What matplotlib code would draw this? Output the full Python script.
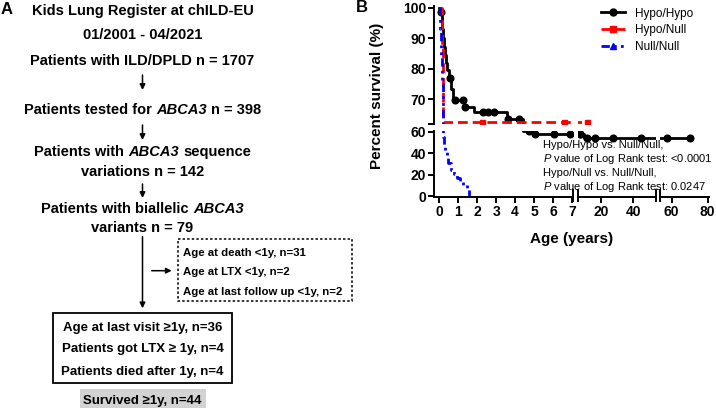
import matplotlib
matplotlib.use('Agg')
import matplotlib.pyplot as plt
from matplotlib.lines import Line2D
from matplotlib.patches import Rectangle

plt.rcParams['font.family'] = ['Liberation Sans', 'DejaVu Sans']
plt.rcParams['mathtext.fontset'] = 'custom'
plt.rcParams['mathtext.it'] = 'Liberation Sans:italic'
plt.rcParams['mathtext.rm'] = 'Liberation Sans'

# ---------------- data ----------------
# Hypo/Hypo Kaplan-Meier steps
hh_time = [0, 0.05, 0.12, 0.16, 0.20, 0.24, 0.28, 0.34, 0.42, 0.50, 0.62, 0.70,
           1.30, 1.82, 3.58, 4.42, 5.00, 9.50, 70.2]
hh_surv = [100, 98.5, 96, 93, 90, 87, 84.5, 82, 79.5, 76.9, 73.5, 69.8,
           67.6, 65.9, 63.7, 60.5, 57.6, 53.9, 53.9]
hh_cens_time = [0.09, 0.57, 0.83, 1.27, 1.36, 2.29, 2.59, 2.86, 3.65, 4.23, 4.75,
                5.06, 6.03, 6.87, 7.1, 7.4, 11.8, 16.5, 27.7, 44.7, 57.2, 70.2]
hh_cens_surv = [98.5, 76.9, 69.8, 69.8, 67.6, 65.9, 65.9, 65.9, 63.7, 63.7, 60.5,
                57.6, 57.6, 57.6, 57.6, 57.6, 53.9, 53.9, 53.9, 53.9, 53.9, 53.9]
# Hypo/Null
hn_time = [0, 0.12, 0.18, 0.22, 11.4]
hn_surv = [100, 87.5, 75, 62.5, 62.5]
hn_cens_time = [2.24, 6.6, 11.4]
hn_cens_surv = [62.5, 62.5, 62.5]
# Null/Null
nn_time = [0, 0.06, 0.09, 0.11, 0.13, 0.15, 0.17, 0.19, 0.21, 0.25, 0.30, 0.38,
           0.48, 0.60, 0.75, 0.92, 1.10, 1.27, 1.45, 1.57]
nn_surv = [100, 93, 88, 84, 79, 75, 70, 62, 55, 48, 41.5, 36,
           30.7, 24.5, 20.5, 16.9, 13.8, 10.6, 6.5, 0]

series_labels = ['Hypo/Hypo', 'Hypo/Null', 'Null/Null']
x_ticks = [[0, 1, 2, 3, 4, 5, 6, 7], [20, 40], [60, 80]]
y_ticks_upper = [70, 80, 90, 100]
y_ticks_lower = [0, 20, 40, 60]

annot_lines = ['Hypo/Hypo vs. Null/Null,',
               r'$\mathit{P}$ value of Log Rank test: <0.0001',
               'Hypo/Null vs. Null/Null,',
               r'$\mathit{P}$ value of Log Rank test: 0.0247']

flow_main = [
    [('Kids Lung Register at chILD-EU', 'normal')],
    [('01/2001 - 04/2021', 'normal')],
    [('Patients with ILD/DPLD n = 1707', 'normal')],
    [('Patients tested for', 'normal'), ('ABCA3', 'italic'), ('n = 398', 'normal')],
    [('Patients with', 'normal'), ('ABCA3', 'italic'), ('sequence', 'normal')],
    [('variations n = 142', 'normal')],
    [('Patients with biallelic', 'normal'), ('ABCA3', 'italic')],
    [('variants n = 79', 'normal')],
]
flow_excluded = ['Age at death <1y, n=31', 'Age at LTX <1y, n=2',
                 'Age at last follow up <1y, n=2']
flow_box = ['Age at last visit \u22651y, n=36', 'Patients got LTX \u2265 1y, n=4',
            'Patients died after 1y, n=4']
flow_final = 'Survived \u22651y, n=44'

# ---------------- figure ----------------
W, H = 716, 409
fig = plt.figure(figsize=(W / 100, H / 100), dpi=100)
R = fig.canvas.get_renderer()

ax0 = fig.add_axes([0, 0, 1, 1])
ax0.set_xlim(0, W)
ax0.set_ylim(H, 0)
ax0.axis('off')


def text_width(s, size, weight='bold', style='normal'):
    t = ax0.text(0, 0, s, fontsize=size, fontweight=weight, fontstyle=style)
    w = t.get_window_extent(renderer=R).width
    t.remove()
    return w


def run_line(xc, y, runs, size):
    sp = text_width('n n', size) - text_width('nn', size)
    ws = [text_width(s, size, style=st) for s, st in runs]
    total = sum(ws) + sp * (len(runs) - 1)
    x = xc - total / 2
    base = y + 0.36 * size * 100 / 72
    for (s, st), w in zip(runs, ws):
        ax0.text(x, base, s, fontsize=size, fontweight='bold', fontstyle=st,
                 ha='left', va='baseline')
        x += w + sp


# ---- panel A ----
ax0.text(7, 9.5, 'A', fontsize=12, fontweight='bold', ha='center', va='center')
ax0.text(362, 8, 'B', fontsize=12, fontweight='bold', ha='center', va='center')

xc = 142.5
main_y = [10, 33.3, 60, 108.3, 150.7, 170.8, 207.3, 226.7]
for y, runs in zip(main_y, flow_main):
    run_line(xc, y, runs, 10.5)

arw = dict(arrowstyle='-|>', color='k', lw=1.1, mutation_scale=8, shrinkA=0, shrinkB=0)
for y0, y1 in [(75, 90), (125, 140), (184, 198), (236.7, 308.3)]:
    ax0.annotate('', xy=(xc, y1), xytext=(xc, y0), arrowprops=arw)
ax0.annotate('', xy=(171.7, 270.7), xytext=(151.7, 270.7), arrowprops=arw)

ax0.add_patch(Rectangle((178.3, 239.3), 173.4, 61.4, fill=False, ec='k', lw=1.1,
                        ls=(0, (1.6, 1.4))))
for y, s in zip([251.7, 271, 290.7], flow_excluded):
    ax0.text(182.7, y + 0.36 * 8.2 * 100 / 72, s, fontsize=8.2, fontweight='bold',
             ha='left', va='baseline')

ax0.add_patch(Rectangle((53.3, 313.3), 178.4, 69.4, fill=False, ec='k', lw=1.3))
for y, s in zip([326, 347.7, 370.7], flow_box):
    run_line(xc, y, [(s, 'normal')], 9.5)

ax0.add_patch(Rectangle((80, 389), 126, 19, fc='#d3d3d3', ec='none'))
run_line(xc, 399, [(flow_final, 'normal')], 9.5)

# ---- panel B ----
col_px = [(434, 573.3), (577.7, 655.7), (660, 709)]
row_px = [(6, 124), (130.6, 197)]
col_lim = [(-0.28, 7.07), (5.9, 53.7), (53.5, 80.7)]
col_data = [(-0.28, 7.07), (7.07, 53.7), (53.7, 80.7)]
row_lim = [(61.9, 100.6), (-0.5, 61.0)]

red_ls = (0, (3.5, 1.8))
blue_ls = (0, (3, 1.5, 1, 1.5, 1, 1.5))
LW = 2.0
SPW = 1.4


def in_segment(ts, ss, xl, yl):
    pts = [(t, s) for t, s in zip(ts, ss) if xl[0] <= t <= xl[1] and yl[0] <= s <= yl[1]]
    return [p[0] for p in pts], [p[1] for p in pts]


for r in range(2):
    for c in range(3):
        x0, x1 = col_px[c]
        y0, y1 = row_px[r]
        xl, yl = col_lim[c], row_lim[r]
        ax = fig.add_axes([x0 / W, 1 - y1 / H, (x1 - x0) / W, (y1 - y0) / H])
        ax.patch.set_alpha(0)
        ax.set_xlim(*xl)
        ax.set_ylim(*yl)
        for sname in ['top', 'right', 'left', 'bottom']:
            ax.spines[sname].set_visible(False)
            ax.spines[sname].set_linewidth(SPW)
        ax.step(hh_time, hh_surv, where='post', color='k', lw=LW)
        ax.plot(*in_segment(hh_cens_time, hh_cens_surv, col_data[c], yl), 'o',
                color='k', ms=4.8)
        ax.step(hn_time, hn_surv, where='post', color='#ff0000', lw=LW, ls=red_ls)
        ax.plot(*in_segment(hn_cens_time, hn_cens_surv, col_data[c], yl), 's',
                color='#ff0000', ms=3.6)
        ax.step(nn_time, nn_surv, where='post', color='#0000ff', lw=LW, ls=blue_ls)

        if c == 0:
            ax.spines['left'].set_visible(True)
            if r == 0:
                ax.set_yticks([yl[0]] + y_ticks_upper)
                ax.set_yticklabels([''] + [str(v) for v in y_ticks_upper], fontweight='bold')
            else:
                ax.set_yticks(y_ticks_lower)
                ax.set_yticklabels([str(v) for v in y_ticks_lower], fontweight='bold')
            ax.tick_params(axis='y', length=4, width=SPW, pad=1.5, labelsize=10)
        else:
            ax.set_yticks([])
        if r == 1:
            ax.spines['bottom'].set_visible(True)
            ax.set_xticks(x_ticks[c])
            ax.set_xticklabels([str(v) for v in x_ticks[c]], fontweight='bold')
            ax.tick_params(axis='x', length=4, width=SPW, pad=2, labelsize=10)
            hpx = y1 - y0
            edges = {0: [1], 1: [0, 1], 2: [0]}[c]
            for e in edges:
                ax.plot([e, e], [-4 / hpx, 7.5 / hpx], transform=ax.transAxes,
                        color='k', lw=SPW, clip_on=False)
        else:
            ax.set_xticks([])

fig.text(377 / W, 1 - 96 / H, 'Percent survival (%)', rotation=90, ha='center',
         va='center', fontsize=11, fontweight='bold')
fig.text(571.5 / W, 1 - 239.3 / H, 'Age (years)', ha='center', va='center',
         fontsize=11, fontweight='bold')

for y, s in zip([144.5, 159, 172.5, 186.5], annot_lines):
    fig.text(542.7 / W, 1 - y / H, s, ha='left', va='center', fontsize=8)

handles = [Line2D([], [], color='k', lw=LW, marker='o', ms=5),
           Line2D([], [], color='#ff0000', lw=LW, ls=red_ls, marker='s', ms=4),
           Line2D([], [], color='#0000ff', lw=LW, ls=blue_ls, marker='^', ms=5)]
fig.legend(handles, series_labels, loc='upper left', bbox_to_anchor=(601 / W, 1 - 7.5 / H),
           frameon=False, fontsize=8.5, handlelength=2.0, handletextpad=0.85,
           labelspacing=0.4, borderpad=0, borderaxespad=0)

fig.savefig('out.png', dpi=100)
